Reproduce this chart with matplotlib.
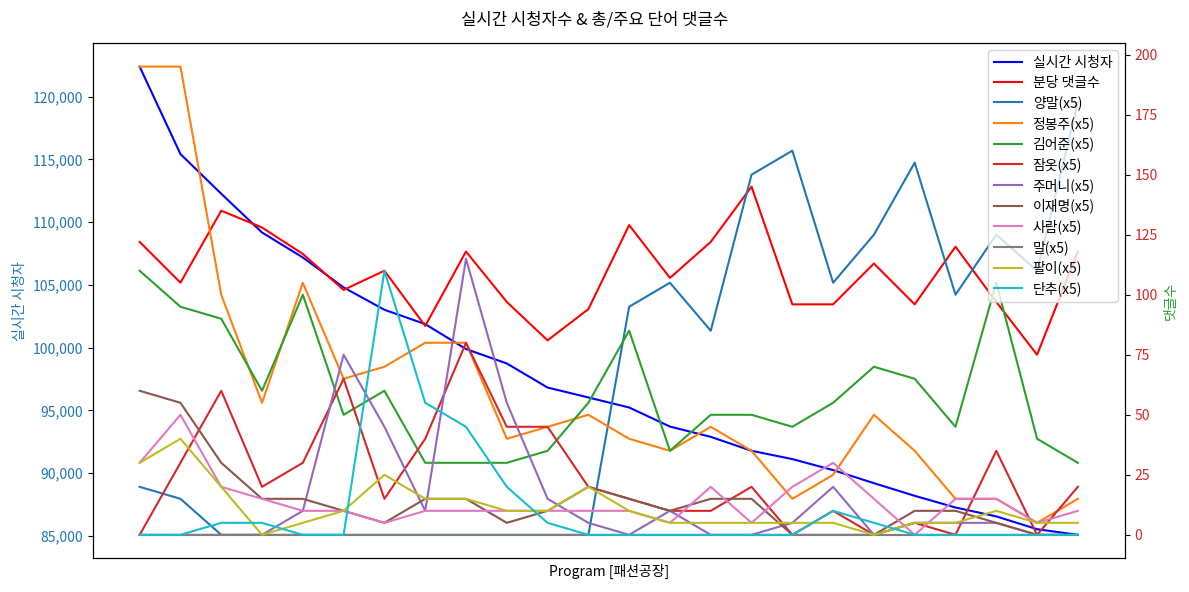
import numpy as np
import matplotlib.pyplot as plt
from matplotlib.ticker import FuncFormatter

plt.rcParams['font.family'] = ['Noto Sans CJK KR', 'DejaVu Sans']
plt.rcParams['axes.unicode_minus'] = False

# real-time viewers (left axis)
viewers = [122400, 115430, 112270, 109180, 107190, 104800, 103020, 101880,
           99890, 98740, 96820, 96030, 95230, 93710, 92890, 91780,
           91120, 90240, 89200, 88190, 87260, 86550, 85530, 85080]
# comments per minute (right axis)
comments = [122, 105, 135, 128, 117, 102, 110, 87, 118, 97, 81, 94,
            129, 107, 122, 145, 96, 96, 113, 96, 120, 97, 75, 118]

# keyword counts (already x5)
yangmal = [20, 15, 0, 0, 0, 0, 0, 0, 0, 0, 0, 0, 95, 105, 85, 150, 160, 105, 125, 155, 100, 125, 110, 180]
jeongbongju = [195, 195, 100, 55, 105, 65, 70, 80, 80, 40, 45, 50, 40, 35, 45, 35, 15, 25, 50, 35, 15, 15, 5, 15]
kimeojun = [110, 95, 90, 60, 100, 50, 60, 30, 30, 30, 35, 55, 85, 35, 50, 50, 45, 55, 70, 65, 45, 105, 40, 30]
jamot = [0, 30, 60, 20, 30, 65, 15, 40, 80, 45, 45, 20, 15, 10, 10, 20, 0, 10, 0, 5, 0, 35, 0, 20]
jumeoni = [0, 0, 0, 0, 10, 75, 45, 10, 115, 55, 15, 5, 0, 10, 0, 0, 5, 20, 0, 5, 5, 5, 0, 0]
leejaemyung = [60, 55, 30, 15, 15, 10, 5, 15, 15, 5, 10, 20, 15, 10, 15, 15, 0, 0, 0, 10, 10, 5, 0, 0]
saram = [30, 50, 20, 15, 10, 10, 5, 10, 10, 10, 10, 10, 10, 5, 20, 5, 20, 30, 15, 0, 15, 15, 5, 10]
mal = [0] * 24
pali = [30, 40, 20, 0, 5, 10, 25, 15, 15, 10, 10, 20, 10, 5, 5, 5, 5, 5, 0, 5, 5, 10, 5, 5]
danchu = [0, 0, 5, 5, 0, 0, 110, 55, 45, 20, 5, 0, 0, 0, 0, 0, 0, 10, 5, 0, 0, 0, 0, 0]

word_names = ['양말', '정봉주', '김어준', '잠옷', '주머니', '이재명', '사람', '말', '팔이', '단추']
word_series = [yangmal, jeongbongju, kimeojun, jamot, jumeoni, leejaemyung, saram, mal, pali, danchu]

x = np.arange(len(viewers))

fig, ax1 = plt.subplots(figsize=(11.89, 5.92), dpi=100)
ax2 = ax1.twinx()

l1, = ax1.plot(x, viewers, color='blue', lw=1.5, label='실시간 시청자')
l2, = ax2.plot(x, comments, color='red', lw=1.5, label='분당 댓글수')
handles = [l1, l2]
for i, (name, vals) in enumerate(zip(word_names, word_series)):
    h, = ax2.plot(x, vals, color='C%d' % i, lw=1.5, label='%s(x5)' % name)
    handles.append(h)

ax1.set_xticks([])
ax1.set_xlabel('Program [패션공장]')
ax1.set_ylabel('실시간 시청자', color='tab:blue')
ax2.set_ylabel('댓글수', color='tab:green')
ax1.tick_params(axis='y', labelcolor='tab:blue')
ax2.tick_params(axis='y', labelcolor='tab:red')
ax1.yaxis.set_major_formatter(FuncFormatter(lambda v, p: '{:,.0f}'.format(v)))

ax2.legend(handles=handles, loc='upper right', fontsize=10, labelspacing=0.42)
fig.suptitle('실시간 시청자수 & 총/주요 단어 댓글수', fontsize=12)

plt.subplots_adjust(left=0.078, right=0.946, bottom=0.057, top=0.927)
fig.savefig('out.png')
